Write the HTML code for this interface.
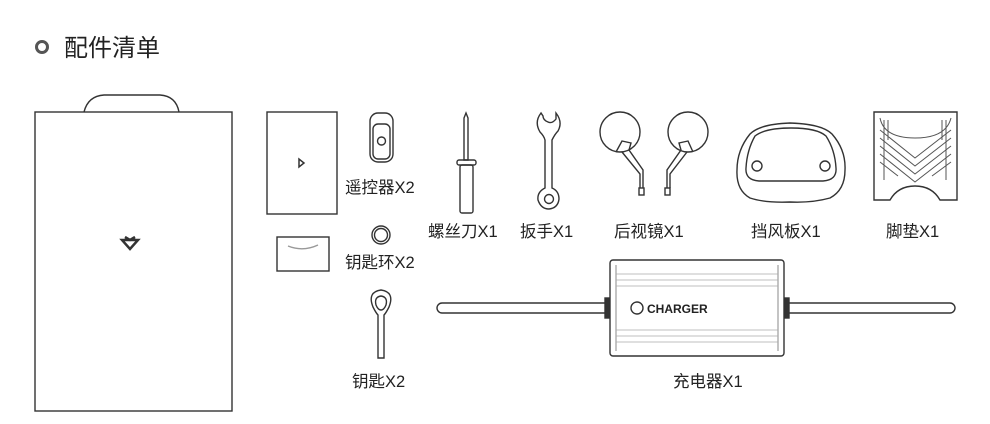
<!DOCTYPE html>
<html><head><meta charset="utf-8"><style>
html,body{margin:0;padding:0;background:#fff;}
svg{display:block}
text{font-family:"Liberation Sans","Noto Sans CJK SC",sans-serif;fill:#222;}
</style></head><body>
<svg width="990" height="424" viewBox="0 0 990 424" xmlns="http://www.w3.org/2000/svg">
<g fill="none" stroke="#333" stroke-width="1.4">
<circle cx="42" cy="47" r="5.5" stroke="#555" stroke-width="3"/>
<path d="M84 112 Q88 96 104 95 L160 95 Q176 96 179 112"/>
<rect x="35" y="112" width="197" height="299"/>
<path d="M122 240 L138 240 L130 249 Z M125 237 L130 240 L135 237" stroke-width="2.5"/>
<rect x="267" y="112" width="70" height="102"/>
<path d="M299 159 L299 167 L304 163 Z" stroke-width="1.5"/>
<rect x="277" y="237" width="52" height="34"/>
<path d="M288 246 Q303 252 318 245" stroke="#999"/>
<rect x="370" y="113" width="23" height="49" rx="8"/>
<rect x="373" y="124" width="17" height="35" rx="5"/>
<circle cx="381.5" cy="141" r="4"/>
<circle cx="381" cy="235" r="9"/><circle cx="381" cy="235" r="6.5"/>
<path d="M373 307 Q367 292 381 290 Q395 292 389 307 Q386 313 384 315 L384 358 L378 358 L378 315 Q376 313 373 307 Z"/>
<path d="M376 305 Q374 297 381 296 Q388 297 386 305 Q384 310 381 310 Q378 310 376 305 Z"/>
<path d="M466 113 L468 118 L468 160 L464 160 L464 118 Z"/>
<rect x="457" y="160" width="19" height="5" rx="2"/>
<rect x="460" y="165" width="13" height="48" rx="2"/>
<path d="M541 113 Q534 122 540 132 Q544 136 545 140 L545 188 Q537 192 538 200 Q541 209 549 209 Q558 208 559 199 Q559 191 552 188 L552 140 Q555 134 558 131 Q563 122 556 113 L556 119 Q552 124 548 122 Q543 120 543 116 Z"/>
<circle cx="549" cy="199" r="4.5"/>
<circle cx="620" cy="132" r="20"/>
<circle cx="688" cy="132" r="20"/>
<path d="M616 152 L622 141 L631 143 L629 150 L643 170 L643 188 M622 152 L640 174 L640 188"/>
<rect x="639" y="188" width="5" height="7"/>
<path d="M693 152 L688 141 L679 143 L681 150 L667 170 L667 188 M687 152 L670 174 L670 188"/>
<rect x="665" y="188" width="5" height="7"/>
<path d="M750 134 Q760 124 790 123 Q822 124 832 134 Q846 150 845 170 Q845 190 830 198 Q812 203 790 202 Q765 203 750 198 Q736 190 737 170 Q737 150 750 134 Z"/>
<path d="M755 136 Q765 128 791 128 Q817 128 826 136 Q835 150 836 168 Q837 180 823 181 L759 181 Q745 180 746 168 Q747 150 755 136 Z"/>
<circle cx="757" cy="166" r="5"/><circle cx="825" cy="166" r="5"/>
<path d="M874 112 L957 112 L957 200 L940 200 Q932 186 915 186 Q898 186 890 200 L874 200 Z"/>
<path d="M880 118 Q884 138 915 138 Q946 138 951 118 M880 130 L915 158 L951 130 M880 138 L915 166 L951 138 M880 146 L915 174 L951 146 M880 154 L915 182 L951 154 M880 162 L898 176 M951 162 L932 176 M884 120 L884 180 M888 120 L888 140 M946 120 L946 180 M942 120 L942 140" stroke-width="1" stroke="#555"/>
<rect x="437" y="303" width="518" height="10" rx="5"/>
<rect x="605" y="298" width="6" height="20" fill="#333"/>
<rect x="783" y="298" width="6" height="20" fill="#333"/>
<rect x="610" y="260" width="174" height="96" rx="3" fill="#fff"/>
<path d="M616 265 L616 351 M778 265 L778 351" stroke-width="1" stroke="#888"/>
<path d="M616 274 L778 274 M616 280 L778 280 M616 286 L778 286 M616 330 L778 330 M616 336 L778 336 M616 342 L778 342" stroke-width="0.8" stroke="#aaa"/>
<circle cx="637" cy="308" r="6"/>
</g>
<text x="64" y="56" font-size="24">配件清单</text>
<g font-size="16.5">
<text x="345" y="193">遥控器X2</text>
<text x="345" y="268">钥匙环X2</text>
<text x="352" y="387">钥匙X2</text>
<text x="428" y="237">螺丝刀X1</text>
<text x="520" y="237">扳手X1</text>
<text x="614" y="237">后视镜X1</text>
<text x="751" y="237">挡风板X1</text>
<text x="886" y="237">脚垫X1</text>
<text x="673" y="387">充电器X1</text>
</g>
<text x="647" y="313" font-size="12" font-weight="bold">CHARGER</text>
</svg>
</body></html>
